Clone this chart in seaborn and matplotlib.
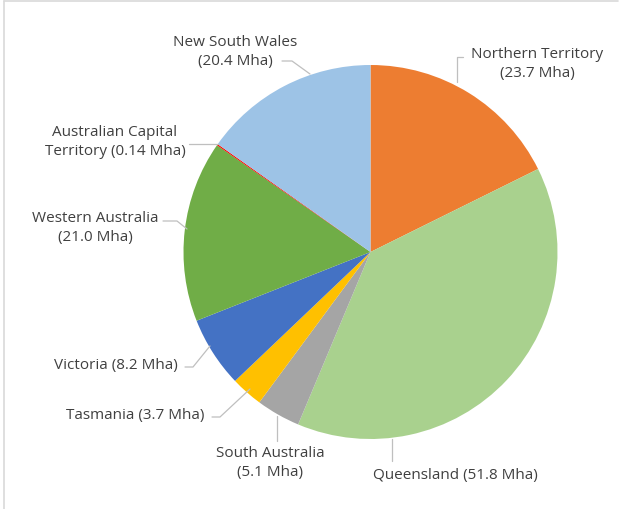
import numpy as np
import matplotlib.pyplot as plt
import seaborn as sns
from matplotlib.lines import Line2D

# Australian land area by state/territory (Mha), clockwise from 12 o'clock
states = ['Northern Territory', 'Queensland', 'South Australia', 'Tasmania',
          'Victoria', 'Western Australia', 'Australian Capital Territory',
          'New South Wales']
area_mha = [23.7, 51.8, 5.1, 3.7, 8.2, 21.0, 0.14, 20.4]
label_text = ['Northern Territory\n(23.7 Mha)', 'Queensland (51.8 Mha)',
              'South Australia\n(5.1 Mha)', 'Tasmania (3.7 Mha)',
              'Victoria (8.2 Mha)', 'Western Australia\n(21.0 Mha)',
              'Australian Capital\nTerritory (0.14 Mha)',
              'New South Wales\n(20.4 Mha)']
colours = ['#ED7D31', '#A9D18E', '#A5A5A5', '#FFC000',
           '#4472C4', '#70AD47', '#FF0000', '#9DC3E6']

sns.set_theme(style='white')
plt.rcParams['font.family'] = ['Open Sans', 'DejaVu Sans']

W, H = 620, 510
CX, CY, R = 370.5, 253.0, 187.0


def px(x, y):
    # pixel position -> data coords (pie radius = 1)
    return (x - CX) / R, (CY - y) / R


fig = plt.figure(figsize=(W / 100, H / 100), dpi=100)
ax = fig.add_axes([0, 0, 1, 1])
ax.pie(area_mha, colors=colours, startangle=90, counterclock=False,
       radius=1, center=(0, 0), wedgeprops=dict(linewidth=0))
ax.set_xlim(-CX / R, (W - CX) / R)
ax.set_ylim((CY - H) / R, CY / R)
ax.set_aspect('auto')
ax.axis('off')

txt = '#404040'
lead = '#BFBFBF'
fs = 11

# label anchor (pixels), alignment, leader polyline (pixels)
layout = {
    'Northern Territory': ((537, 64), 'center', [(463, 58), (457, 58), (457, 83)]),
    'Queensland': ((455, 475), 'center', [(392, 462), (392, 440)]),
    'South Australia': ((270, 463), 'center', [(277, 442), (277, 417)]),
    'Tasmania': ((204, 416), 'right', [(212, 418), (220, 418), (250, 390)]),
    'Victoria': ((178, 366), 'right', [(185, 368), (193, 368), (210, 347)]),
    'Western Australia': ((95, 228), 'center', [(163, 222), (177, 222), (187, 230)]),
    'Australian Capital Territory': ((115, 142), 'center', [(189, 145), (218, 145)]),
    'New South Wales': ((235, 52), 'center', [(282, 62), (292, 62), (310, 75)]),
}

for name, lab in zip(states, label_text):
    (lx, ly), ha, pts = layout[name]
    x, y = px(lx, ly)
    ax.text(x, y, lab, ha=ha, va='center', fontsize=fs, color=txt,
            linespacing=1.3, multialignment='center')
    xs, ys = zip(*[px(a, b) for a, b in pts])
    ax.plot(xs, ys, color=lead, lw=0.9)

# thin frame on top and left like the source screenshot
fig.add_artist(Line2D([4 / W, 618 / W], [1 - 2 / H, 1 - 2 / H],
                      transform=fig.transFigure, color='#D9D9D9', lw=1.2))
fig.add_artist(Line2D([4 / W, 4 / W], [0, 1 - 2 / H],
                      transform=fig.transFigure, color='#D9D9D9', lw=1.2))

fig.savefig('out.png', dpi=100, facecolor='white')
